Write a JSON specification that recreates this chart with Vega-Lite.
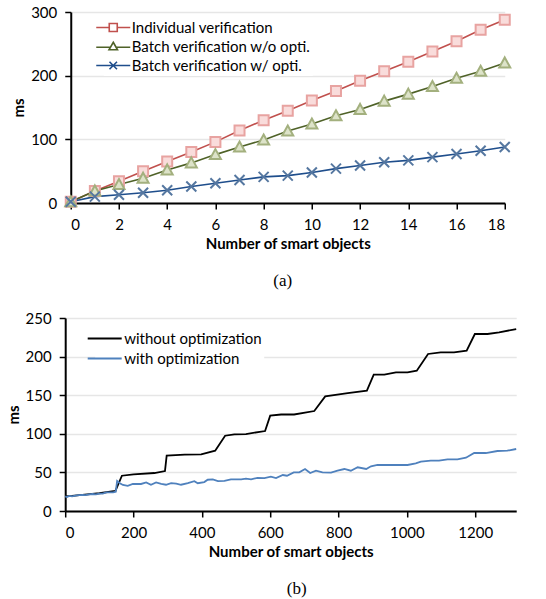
{
  "$schema": "https://vega.github.io/schema/vega-lite/v6.json",
  "padding": {"left": 6, "top": 5, "right": 5, "bottom": 5},
  "background": "white",
  "center": true,
  "spacing": 22,
  "resolve": {"scale": {"color": "independent"}, "legend": {"color": "independent"}},
  "datasets": {
    "a": [
      {"n": 0, "ms": 2, "series": "Individual verification"},
      {"n": 1, "ms": 19, "series": "Individual verification"},
      {"n": 2, "ms": 34, "series": "Individual verification"},
      {"n": 3, "ms": 50, "series": "Individual verification"},
      {"n": 4, "ms": 65, "series": "Individual verification"},
      {"n": 5, "ms": 80, "series": "Individual verification"},
      {"n": 6, "ms": 96, "series": "Individual verification"},
      {"n": 7, "ms": 114, "series": "Individual verification"},
      {"n": 8, "ms": 130, "series": "Individual verification"},
      {"n": 9, "ms": 145, "series": "Individual verification"},
      {"n": 10, "ms": 161, "series": "Individual verification"},
      {"n": 11, "ms": 176, "series": "Individual verification"},
      {"n": 12, "ms": 192, "series": "Individual verification"},
      {"n": 13, "ms": 207, "series": "Individual verification"},
      {"n": 14, "ms": 222, "series": "Individual verification"},
      {"n": 15, "ms": 238, "series": "Individual verification"},
      {"n": 16, "ms": 254, "series": "Individual verification"},
      {"n": 17, "ms": 272, "series": "Individual verification"},
      {"n": 18, "ms": 288, "series": "Individual verification"},
      {"n": 0, "ms": 2, "series": "Batch verification w/o opti."},
      {"n": 1, "ms": 19, "series": "Batch verification w/o opti."},
      {"n": 2, "ms": 29, "series": "Batch verification w/o opti."},
      {"n": 3, "ms": 39, "series": "Batch verification w/o opti."},
      {"n": 4, "ms": 52, "series": "Batch verification w/o opti."},
      {"n": 5, "ms": 63, "series": "Batch verification w/o opti."},
      {"n": 6, "ms": 76, "series": "Batch verification w/o opti."},
      {"n": 7, "ms": 88, "series": "Batch verification w/o opti."},
      {"n": 8, "ms": 99, "series": "Batch verification w/o opti."},
      {"n": 9, "ms": 113, "series": "Batch verification w/o opti."},
      {"n": 10, "ms": 124, "series": "Batch verification w/o opti."},
      {"n": 11, "ms": 137, "series": "Batch verification w/o opti."},
      {"n": 12, "ms": 147, "series": "Batch verification w/o opti."},
      {"n": 13, "ms": 160, "series": "Batch verification w/o opti."},
      {"n": 14, "ms": 171, "series": "Batch verification w/o opti."},
      {"n": 15, "ms": 183, "series": "Batch verification w/o opti."},
      {"n": 16, "ms": 196, "series": "Batch verification w/o opti."},
      {"n": 17, "ms": 207, "series": "Batch verification w/o opti."},
      {"n": 18, "ms": 220, "series": "Batch verification w/o opti."},
      {"n": 0, "ms": 2, "series": "Batch verification w/ opti."},
      {"n": 1, "ms": 10, "series": "Batch verification w/ opti."},
      {"n": 2, "ms": 13, "series": "Batch verification w/ opti."},
      {"n": 3, "ms": 16, "series": "Batch verification w/ opti."},
      {"n": 4, "ms": 20, "series": "Batch verification w/ opti."},
      {"n": 5, "ms": 26, "series": "Batch verification w/ opti."},
      {"n": 6, "ms": 31, "series": "Batch verification w/ opti."},
      {"n": 7, "ms": 36, "series": "Batch verification w/ opti."},
      {"n": 8, "ms": 41, "series": "Batch verification w/ opti."},
      {"n": 9, "ms": 43, "series": "Batch verification w/ opti."},
      {"n": 10, "ms": 48, "series": "Batch verification w/ opti."},
      {"n": 11, "ms": 54, "series": "Batch verification w/ opti."},
      {"n": 12, "ms": 59, "series": "Batch verification w/ opti."},
      {"n": 13, "ms": 64, "series": "Batch verification w/ opti."},
      {"n": 14, "ms": 67, "series": "Batch verification w/ opti."},
      {"n": 15, "ms": 72, "series": "Batch verification w/ opti."},
      {"n": 16, "ms": 77, "series": "Batch verification w/ opti."},
      {"n": 17, "ms": 82, "series": "Batch verification w/ opti."},
      {"n": 18, "ms": 88, "series": "Batch verification w/ opti."}
    ],
    "b": [
      {"n": 0, "ms": 19, "series": "without optimization"},
      {"n": 20, "ms": 19.5, "series": "without optimization"},
      {"n": 50, "ms": 21, "series": "without optimization"},
      {"n": 100, "ms": 23, "series": "without optimization"},
      {"n": 147, "ms": 26, "series": "without optimization"},
      {"n": 166, "ms": 45.7, "series": "without optimization"},
      {"n": 200, "ms": 47.5, "series": "without optimization"},
      {"n": 261, "ms": 49.2, "series": "without optimization"},
      {"n": 292, "ms": 51.8, "series": "without optimization"},
      {"n": 297, "ms": 71.6, "series": "without optimization"},
      {"n": 350, "ms": 73, "series": "without optimization"},
      {"n": 398, "ms": 73.4, "series": "without optimization"},
      {"n": 439, "ms": 78.1, "series": "without optimization"},
      {"n": 468, "ms": 97.5, "series": "without optimization"},
      {"n": 495, "ms": 99.3, "series": "without optimization"},
      {"n": 529, "ms": 99.7, "series": "without optimization"},
      {"n": 585, "ms": 103.6, "series": "without optimization"},
      {"n": 600, "ms": 123.5, "series": "without optimization"},
      {"n": 632, "ms": 125, "series": "without optimization"},
      {"n": 670, "ms": 125, "series": "without optimization"},
      {"n": 729, "ms": 129.5, "series": "without optimization"},
      {"n": 761, "ms": 148.5, "series": "without optimization"},
      {"n": 827, "ms": 152.8, "series": "without optimization"},
      {"n": 883, "ms": 155.9, "series": "without optimization"},
      {"n": 903, "ms": 176.6, "series": "without optimization"},
      {"n": 934, "ms": 176.6, "series": "without optimization"},
      {"n": 968, "ms": 179.6, "series": "without optimization"},
      {"n": 1002, "ms": 179.6, "series": "without optimization"},
      {"n": 1029, "ms": 181.8, "series": "without optimization"},
      {"n": 1062, "ms": 203.4, "series": "without optimization"},
      {"n": 1099, "ms": 205.5, "series": "without optimization"},
      {"n": 1138, "ms": 205.5, "series": "without optimization"},
      {"n": 1175, "ms": 207.6, "series": "without optimization"},
      {"n": 1199, "ms": 229.3, "series": "without optimization"},
      {"n": 1236, "ms": 229.3, "series": "without optimization"},
      {"n": 1270, "ms": 231.4, "series": "without optimization"},
      {"n": 1320, "ms": 235.7, "series": "without optimization"},
      {"n": 0, "ms": 19, "series": "with optimization"},
      {"n": 5, "ms": 18, "series": "with optimization"},
      {"n": 12, "ms": 19.5, "series": "with optimization"},
      {"n": 20, "ms": 19, "series": "with optimization"},
      {"n": 30, "ms": 20, "series": "with optimization"},
      {"n": 40, "ms": 20.5, "series": "with optimization"},
      {"n": 50, "ms": 21, "series": "with optimization"},
      {"n": 60, "ms": 20.5, "series": "with optimization"},
      {"n": 70, "ms": 21.5, "series": "with optimization"},
      {"n": 80, "ms": 22, "series": "with optimization"},
      {"n": 90, "ms": 21.5, "series": "with optimization"},
      {"n": 100, "ms": 22.5, "series": "with optimization"},
      {"n": 110, "ms": 22.5, "series": "with optimization"},
      {"n": 120, "ms": 24, "series": "with optimization"},
      {"n": 130, "ms": 24, "series": "with optimization"},
      {"n": 140, "ms": 24.2, "series": "with optimization"},
      {"n": 148, "ms": 25, "series": "with optimization"},
      {"n": 152, "ms": 39, "series": "with optimization"},
      {"n": 160, "ms": 36, "series": "with optimization"},
      {"n": 169, "ms": 33.7, "series": "with optimization"},
      {"n": 183, "ms": 32.5, "series": "with optimization"},
      {"n": 198, "ms": 35, "series": "with optimization"},
      {"n": 222, "ms": 35, "series": "with optimization"},
      {"n": 237, "ms": 37, "series": "with optimization"},
      {"n": 251, "ms": 34, "series": "with optimization"},
      {"n": 266, "ms": 37, "series": "with optimization"},
      {"n": 281, "ms": 35, "series": "with optimization"},
      {"n": 295, "ms": 34, "series": "with optimization"},
      {"n": 310, "ms": 36, "series": "with optimization"},
      {"n": 325, "ms": 35.5, "series": "with optimization"},
      {"n": 339, "ms": 34, "series": "with optimization"},
      {"n": 359, "ms": 36, "series": "with optimization"},
      {"n": 378, "ms": 38.7, "series": "with optimization"},
      {"n": 388, "ms": 36, "series": "with optimization"},
      {"n": 407, "ms": 37.5, "series": "with optimization"},
      {"n": 417, "ms": 40.5, "series": "with optimization"},
      {"n": 432, "ms": 41, "series": "with optimization"},
      {"n": 447, "ms": 38.7, "series": "with optimization"},
      {"n": 466, "ms": 39, "series": "with optimization"},
      {"n": 485, "ms": 41, "series": "with optimization"},
      {"n": 515, "ms": 41, "series": "with optimization"},
      {"n": 529, "ms": 42, "series": "with optimization"},
      {"n": 544, "ms": 41, "series": "with optimization"},
      {"n": 563, "ms": 43, "series": "with optimization"},
      {"n": 583, "ms": 42.7, "series": "with optimization"},
      {"n": 602, "ms": 44.4, "series": "with optimization"},
      {"n": 617, "ms": 42.7, "series": "with optimization"},
      {"n": 637, "ms": 46.6, "series": "with optimization"},
      {"n": 649, "ms": 45.7, "series": "with optimization"},
      {"n": 669, "ms": 50.1, "series": "with optimization"},
      {"n": 685, "ms": 50.1, "series": "with optimization"},
      {"n": 702, "ms": 54.4, "series": "with optimization"},
      {"n": 717, "ms": 49.2, "series": "with optimization"},
      {"n": 734, "ms": 52.2, "series": "with optimization"},
      {"n": 753, "ms": 50.1, "series": "with optimization"},
      {"n": 778, "ms": 49.7, "series": "with optimization"},
      {"n": 797, "ms": 52.2, "series": "with optimization"},
      {"n": 817, "ms": 54.4, "series": "with optimization"},
      {"n": 836, "ms": 52.2, "series": "with optimization"},
      {"n": 856, "ms": 56.6, "series": "with optimization"},
      {"n": 881, "ms": 54.4, "series": "with optimization"},
      {"n": 895, "ms": 57.9, "series": "with optimization"},
      {"n": 914, "ms": 59.6, "series": "with optimization"},
      {"n": 963, "ms": 59.6, "series": "with optimization"},
      {"n": 1002, "ms": 59.6, "series": "with optimization"},
      {"n": 1026, "ms": 61.8, "series": "with optimization"},
      {"n": 1041, "ms": 64, "series": "with optimization"},
      {"n": 1070, "ms": 65.2, "series": "with optimization"},
      {"n": 1094, "ms": 65.2, "series": "with optimization"},
      {"n": 1119, "ms": 66.9, "series": "with optimization"},
      {"n": 1148, "ms": 66.9, "series": "with optimization"},
      {"n": 1173, "ms": 69, "series": "with optimization"},
      {"n": 1197, "ms": 75.1, "series": "with optimization"},
      {"n": 1231, "ms": 75.1, "series": "with optimization"},
      {"n": 1265, "ms": 77.7, "series": "with optimization"},
      {"n": 1294, "ms": 78.1, "series": "with optimization"},
      {"n": 1320, "ms": 80.3, "series": "with optimization"}
    ]
  },
  "vconcat": [
    {
      "width": 434,
      "height": 191,
      "data": {"name": "a"},
      "title": {"text": "(a)", "orient": "bottom", "anchor": "middle", "frame": "group", "font": "Liberation Serif", "fontSize": 17, "fontWeight": "normal", "color": "black", "offset": 22, "dx": -5},
      "layer": [
        {
          "mark": {"type": "line", "strokeWidth": 1.6},
          "encoding": {
            "x": {"field": "n", "type": "quantitative", "scale": {"domain": [0, 18], "nice": false},
                  "axis": {"values": [0, 2, 4, 6, 8, 10, 12, 14, 16, 18], "title": "Number of smart objects", "grid": false}},
            "y": {"field": "ms", "type": "quantitative", "scale": {"domain": [0, 300], "nice": false},
                  "axis": {"values": [0, 50, 100, 150, 200, 250, 300], "title": "ms"}},
            "color": {"field": "series", "type": "nominal",
                      "scale": {"domain": ["Individual verification", "Batch verification w/o opti.", "Batch verification w/ opti."], "range": ["#C0504D", "#4F6228", "#1F4E8C"]},
                      "legend": {"orient": "none", "legendX": 33, "legendY": 6, "title": null, "fillColor": "white", "padding": 2,
                                 "symbolSize": 100, "symbolStrokeWidth": 1.6, "labelOffset": 11, "rowPadding": 3, "labelLimit": 400,
                                 "encode": {"symbols": {"update": {
                                   "shape": {"signal": "datum.value === 'Individual verification' ? 'M-3.4,0H-0.8M0.8,0H3.4M-0.8,-0.8H0.8V0.8H-0.8Z' : (datum.value === 'Batch verification w/o opti.' ? 'M-3.4,0.15H-0.5M0.5,0.15H3.4M0,-0.85L0.85,0.65H-0.85Z' : 'M-3.4,0H3.4M-0.75,-0.75L0.75,0.75M-0.75,0.75L0.75,-0.75')"},
                                   "fill": {"value": "white"}
                                 }}}}},
            "order": {"field": "n"}
          }
        },
        {
          "mark": {"type": "point", "filled": false, "strokeWidth": 2, "opacity": 1},
          "encoding": {
            "x": {"field": "n", "type": "quantitative"},
            "y": {"field": "ms", "type": "quantitative"},
            "shape": {"field": "series", "type": "nominal", "legend": null,
                      "scale": {"domain": ["Individual verification", "Batch verification w/o opti.", "Batch verification w/ opti."], "range": ["M-1,-1H1V1H-1Z", "M0,-1.1L1.1,0.9H-1.1Z", "M-1,-1L1,1M-1,1L1,-1"]}},
            "stroke": {"field": "series", "type": "nominal", "legend": null,
                       "scale": {"domain": ["Individual verification", "Batch verification w/o opti.", "Batch verification w/ opti."], "range": ["#E8A3A1", "#A3B07E", "#5577A0"]}},
            "fill": {"field": "series", "type": "nominal", "legend": null,
                     "scale": {"domain": ["Individual verification", "Batch verification w/o opti.", "Batch verification w/ opti."], "range": ["#F9DCDB", "#DDE3C9", "transparent"]}},
            "size": {"value": 100}
          }
        }
      ]
    },
    {
      "width": 451,
      "height": 193,
      "data": {"name": "b"},
      "title": {"text": "(b)", "orient": "bottom", "anchor": "middle", "frame": "group", "font": "Liberation Serif", "fontSize": 17, "fontWeight": "normal", "color": "black", "offset": 22, "dx": 6},
      "mark": {"type": "line", "strokeWidth": 1.8},
      "encoding": {
        "x": {"field": "n", "type": "quantitative", "scale": {"domain": [0, 1320], "nice": false},
              "axis": {"values": [0, 200, 400, 600, 800, 1000, 1200], "format": "d", "title": "Number of smart objects", "grid": false}},
        "y": {"field": "ms", "type": "quantitative", "scale": {"domain": [0, 250], "nice": false},
              "axis": {"values": [0, 50, 100, 150, 200, 250], "title": "ms"}},
        "color": {"field": "series", "type": "nominal",
                  "scale": {"domain": ["without optimization", "with optimization"], "range": ["#000000", "#4F81BD"]},
                  "legend": {"orient": "none", "legendX": 30, "legendY": 11, "title": null, "fillColor": "white", "padding": 2,
                             "symbolType": "M-3.4,0H3.4", "symbolSize": 100, "symbolStrokeWidth": 1.8, "labelOffset": 12, "rowPadding": 4, "labelLimit": 400}},
        "order": {"field": "n"}
      }
    }
  ],
  "config": {
    "view": {"stroke": null},
    "font": "Lato",
    "axis": {
      "labelFont": "Lato", "labelFontSize": 15, "labelColor": "#000000", "labelPadding": 8,
      "titleFont": "Lato", "titleFontSize": 15, "titleFontWeight": "bold", "titleColor": "#000000", "titlePadding": 4,
      "domainColor": "#000000", "domainWidth": 2, "tickColor": "#000000", "tickWidth": 1.5, "tickSize": 6,
      "gridColor": "#E6E6E6", "gridWidth": 1.5
    },
    "legend": {"labelFont": "Lato", "labelFontSize": 15, "labelColor": "#000000"}
  }
}
